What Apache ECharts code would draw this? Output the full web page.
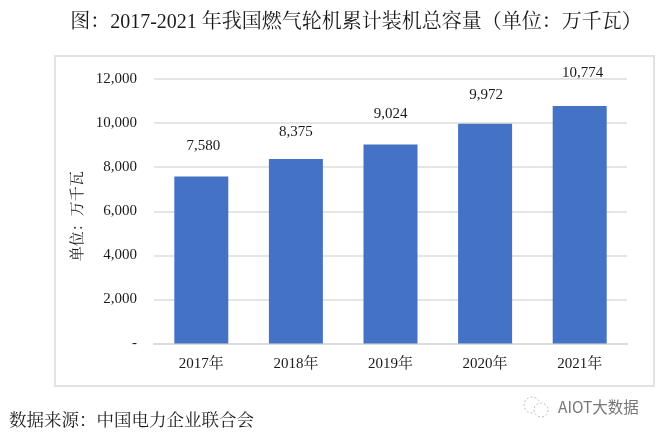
<!DOCTYPE html>
<html>
<head>
<meta charset="utf-8">
<style>
html, body { margin: 0; padding: 0; background: #fff; }
#main { width: 662px; height: 436px; }
</style>
<script src="https://cdn.jsdelivr.net/npm/echarts@6/dist/echarts.min.js"></script>
</head>
<body>
<div id="main"></div>
<script>
var categories = ['2017年', '2018年', '2019年', '2020年', '2021年'];
var capacity = [7580, 8375, 9024, 9972, 10774];
var labelLift = [23, 19, 23, 21, 25];
var labelShift = [2, 0, 0, 1, 3];
var yMax = 12000;
var yStep = 2000;
var serif = '"Liberation Serif", "Noto Serif CJK SC", "Noto Sans CJK SC", serif';

var barData = capacity.map(function (v, i) {
    return { value: v, label: { distance: labelLift[i], offset: [labelShift[i], 0] } };
});

var myChart = echarts.init(document.getElementById('main'));
var option = {
    backgroundColor: '#fff',
    animation: false,
    textStyle: { fontFamily: serif },
    title: {
        text: '图：2017-2021 年我国燃气轮机累计装机总容量（单位：万千瓦）',
        left: 351,
        top: 8,
        textAlign: 'center',
        textStyle: { fontSize: 20, fontWeight: 'normal', color: '#1a1a1a', fontFamily: serif }
    },
    graphic: [{
        type: 'rect',
        shape: { x: 55, y: 56, width: 599, height: 330 },
        style: { fill: 'none', stroke: '#e2e2e2', lineWidth: 2 }
    }, {
        type: 'text',
        left: 9,
        top: 413,
        style: { text: '数据来源：中国电力企业联合会', fontSize: 17.5, fill: '#222', fontFamily: serif }
    }, {
        type: 'text',
        left: 558,
        top: 399,
        style: { text: 'AIOT大数据', fontSize: 15.5, fill: '#777', fontFamily: '"Noto Sans CJK SC", sans-serif' }
    }, {
        type: 'circle',
        shape: { cx: 532, cy: 405, r: 8 },
        style: { fill: '#fff', stroke: '#bbb', lineWidth: 1, lineDash: [2, 2] }
    }, {
        type: 'circle',
        shape: { cx: 541, cy: 410, r: 7 },
        style: { fill: '#fff', stroke: '#bbb', lineWidth: 1, lineDash: [2, 2] }
    }],
    grid: { left: 154, right: 35, top: 79, bottom: 92.5 },
    xAxis: {
        type: 'category',
        data: categories,
        axisTick: { show: false },
        axisLine: { lineStyle: { color: '#dcdcdc', width: 2 } },
        axisLabel: { color: '#1a1a1a', fontSize: 15, margin: 13 }
    },
    yAxis: {
        type: 'value',
        min: 0,
        max: yMax,
        interval: yStep,
        name: '单位：万千瓦',
        nameLocation: 'middle',
        nameGap: 68,
        nameMoveOverlap: false,
        nameTextStyle: { color: '#1a1a1a', fontSize: 15, padding: [0, 10, 0, 0] },
        splitLine: { lineStyle: { color: '#dcdcdc', width: 1.5 } },
        axisLine: { show: false },
        axisTick: { show: false },
        axisLabel: {
            color: '#1a1a1a',
            fontSize: 15,
            margin: 17,
            padding: [2, 0, 0, 0],
            formatter: function (v) {
                return v === 0 ? '-' : echarts.format.addCommas(v);
            }
        }
    },
    series: [{
        type: 'bar',
        data: barData,
        barWidth: 54,
        itemStyle: { color: '#4472c4' },
        label: {
            show: true,
            position: 'top',
            color: '#1a1a1a',
            fontSize: 15,
            formatter: function (p) {
                return echarts.format.addCommas(p.value);
            }
        }
    }]
};
myChart.setOption(option);
</script>
</body>
</html>
